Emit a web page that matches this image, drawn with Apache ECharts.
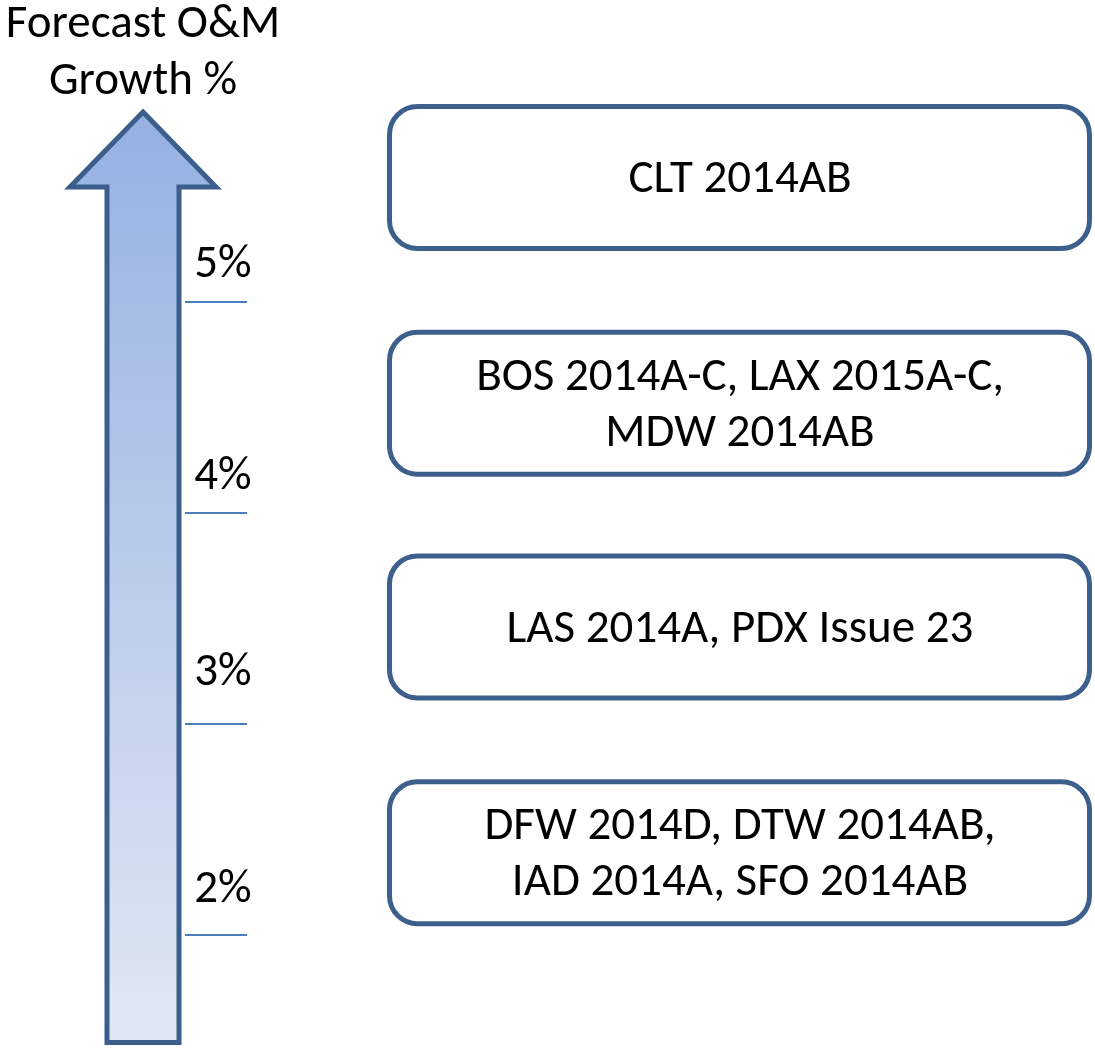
<!DOCTYPE html>
<html><head><meta charset="utf-8">
<script src="https://cdn.jsdelivr.net/npm/echarts@6/dist/echarts.min.js"></script>
<style>html,body{margin:0;padding:0;background:#fff}#c{width:1095px;height:1048px}</style>
</head><body><div id="c"></div>
<script>
// ---- data ----
const titleText = 'Forecast O&M\nGrowth %';
const tickValues = [5, 4, 3, 2];
const tickLabels = ['5%', '4%', '3%', '2%'];
const groupLabels = [
  'CLT 2014AB',
  'BOS 2014A-C, LAX 2015A-C,\nMDW 2014AB',
  'LAS 2014A, PDX Issue 23',
  'DFW 2014D, DTW 2014AB,\nIAD 2014A, SFO 2014AB'
];
const groupLevels = [5.59, 4.52, 3.46, 2.39];
const arrowRange = [1.49, 5.90]; // bottom, tip (growth %)

// ---- style ----
const FONT = 'Carlito, Lato, "Noto Sans", sans-serif';
const FS = 47;
const labelDy = [-37, -36, -51, -45];

const chart = echarts.init(document.getElementById('c'), null, {renderer: 'canvas'});

const option = {
  animation: false,
  backgroundColor: '#ffffff',
  title: {
    text: titleText,
    left: 143, top: -3, padding: 0,
    textAlign: 'center',
    textStyle: {fontFamily: FONT, fontSize: FS, fontWeight: 'normal', color: '#000', lineHeight: 57}
  },
  grid: {left: 0, right: 0, top: 6.6, bottom: 7.5},
  xAxis: {type: 'value', min: 0, max: 1095, show: false},
  yAxis: {type: 'value', min: 1.5, max: 6.4, show: false},
  series: [
    {
      type: 'custom',
      name: 'arrow',
      clip: false,
      data: [arrowRange],
      renderItem: function (params, api) {
        const bot = api.coord([143, api.value(0)]);
        const tip = api.coord([143, api.value(1)]);
        const cx = tip[0];
        const headLen = 75, headHalf = 73, shaftHalf = 36;
        const baseY = tip[1] + headLen;
        const pts = [
          [cx, tip[1]],
          [cx + headHalf, baseY],
          [cx + shaftHalf, baseY],
          [cx + shaftHalf, bot[1]],
          [cx - shaftHalf, bot[1]],
          [cx - shaftHalf, baseY],
          [cx - headHalf, baseY]
        ];
        return {
          type: 'polygon',
          shape: {points: pts},
          style: {
            fill: new echarts.graphic.LinearGradient(0, 0, 0, 1, [
              {offset: 0, color: '#95b1e2'},
              {offset: 1, color: '#e1e7f3'}
            ]),
            stroke: '#3b5e8c',
            lineWidth: 5,
            lineJoin: 'miter'
          }
        };
      }
    },
    {
      type: 'custom',
      name: 'ticks',
      clip: false,
      data: tickValues.map((v, i) => [v, i]),
      renderItem: function (params, api) {
        const v = api.value(0);
        const i = api.value(1);
        const p = api.coord([185, v]);
        return {
          type: 'group',
          children: [
            {type: 'line', shape: {x1: 185, y1: p[1], x2: 247, y2: p[1]},
             style: {stroke: '#4a7ebb', lineWidth: 2}},
            {type: 'text', style: {text: tickLabels[i], x: 223, y: p[1] + labelDy[i],
              align: 'center', verticalAlign: 'middle', font: FS + 'px ' + FONT, fill: '#000'}}
          ]
        };
      }
    },
    {
      type: 'custom',
      name: 'groups',
      clip: false,
      data: groupLevels.map((v, i) => [v, i]),
      renderItem: function (params, api) {
        const v = api.value(0);
        const i = api.value(1);
        const c = api.coord([740, v]);
        const h = 142, x0 = 389.5, x1 = 1089.5;
        return {
          type: 'group',
          children: [
            {type: 'rect', shape: {x: x0, y: c[1] - h / 2, width: x1 - x0, height: h, r: 28},
             style: {fill: '#ffffff', stroke: '#3d5f8c', lineWidth: 5}},
            {type: 'text', style: {text: groupLabels[i], x: c[0], y: c[1] + 3,
              align: 'center', verticalAlign: 'middle', font: FS + 'px ' + FONT,
              lineHeight: 56, fill: '#000'}}
          ]
        };
      }
    }
  ]
};
chart.setOption(option);
</script>
</body></html>
